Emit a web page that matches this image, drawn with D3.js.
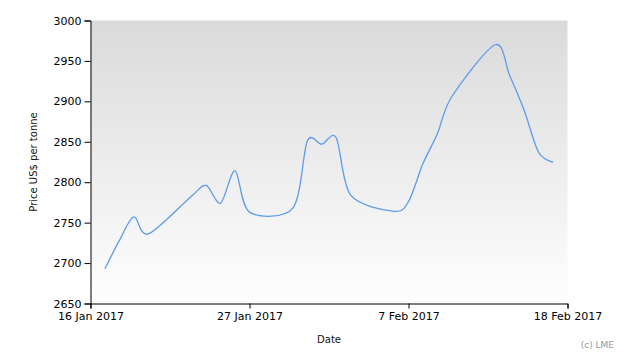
<!DOCTYPE html>
<html>
<head>
<meta charset="utf-8">
<script src="https://cdn.jsdelivr.net/npm/d3@7"></script>
<style>
  html, body { margin: 0; padding: 0; background: #fff; }
  svg { display: block; font-family: "DejaVu Sans", Verdana, sans-serif; }
</style>
</head>
<body>
<svg id="chart" width="630" height="360"></svg>
<script>
// ---- data ----
const dates = ["2017-01-17","2017-01-18","2017-01-19","2017-01-20","2017-01-23","2017-01-24",
  "2017-01-25","2017-01-26","2017-01-27","2017-01-30","2017-01-31","2017-02-01","2017-02-02",
  "2017-02-03","2017-02-06","2017-02-07","2017-02-08","2017-02-09","2017-02-10","2017-02-13",
  "2017-02-14","2017-02-15","2017-02-16","2017-02-17"];
const prices = [2693, 2728, 2757, 2736, 2783, 2796, 2774, 2814, 2763, 2768, 2851, 2847, 2855,
  2784, 2764, 2776, 2823, 2860, 2906, 2970, 2932, 2889, 2837, 2825];
const xTickDates = ["2017-01-16","2017-01-27","2017-02-07","2017-02-18"];
const yTicks = [2650, 2700, 2750, 2800, 2850, 2900, 2950, 3000];
const yDomain = [2650, 3000];

// ---- layout ----
const svg = d3.select("#chart");
const mLeft = 90.5, mRight = 567.5, mTop = 20.5, mBottom = 303.5;
const parse = d3.utcParse("%Y-%m-%d");
const fmt = d3.utcFormat("%-d %b %Y");

const x = d3.scaleUtc()
  .domain([parse(xTickDates[0]), parse(xTickDates[xTickDates.length - 1])])
  .range([mLeft, mRight]);
const y = d3.scaleLinear().domain(yDomain).range([mBottom, mTop]);

const data = dates.map((d, i) => ({ date: parse(d), value: prices[i] }));

// background gradient
const defs = svg.append("defs");
const grad = defs.append("linearGradient").attr("id", "bg")
  .attr("x1", 0).attr("y1", 0).attr("x2", 0).attr("y2", 1);
grad.append("stop").attr("offset", "0%").attr("stop-color", "#dadada");
grad.append("stop").attr("offset", "100%").attr("stop-color", "#fefefe");

svg.append("rect")
  .attr("x", mLeft).attr("y", mTop)
  .attr("width", mRight - mLeft).attr("height", mBottom - mTop)
  .attr("fill", "url(#bg)");

// line
const line = d3.line()
  .x(d => x(d.date))
  .y(d => y(d.value))
  .curve(d3.curveCardinal.tension(0.1));

svg.append("path")
  .datum(data)
  .attr("d", line)
  .attr("fill", "none")
  .attr("stroke", "#5b9bef")
  .attr("stroke-width", 1.3);

// axes
const yAxis = d3.axisLeft(y).tickValues(yTicks).tickSize(6).tickPadding(3).tickFormat(d3.format("d"));
const gy = svg.append("g").attr("transform", `translate(${mLeft},0)`).call(yAxis);
gy.select(".domain").attr("stroke", "#000");
gy.selectAll(".tick line").attr("stroke", "#000");
gy.selectAll(".tick text").attr("fill", "#000").style("font-size", "11px")
  .style("font-family", "'DejaVu Sans', Verdana, sans-serif");

const xAxis = d3.axisBottom(x).tickValues(xTickDates.map(parse)).tickSize(5).tickPadding(4)
  .tickSizeOuter(5).tickFormat(fmt);
const gx = svg.append("g").attr("transform", `translate(0,${mBottom})`).call(xAxis);
gx.select(".domain").attr("stroke", "#000");
gx.selectAll(".tick line").attr("stroke", "#000");
gx.selectAll(".tick text").attr("fill", "#000").style("font-size", "11px")
  .style("font-family", "'DejaVu Sans', Verdana, sans-serif");

// titles
svg.append("text")
  .attr("transform", `translate(37,${(mTop + mBottom) / 2}) rotate(-90)`)
  .attr("text-anchor", "middle")
  .style("font-size", "10px")
  .attr("fill", "#111")
  .text("Price US$ per tonne");

svg.append("text")
  .attr("x", (mLeft + mRight) / 2).attr("y", 343)
  .attr("text-anchor", "middle")
  .style("font-size", "10px")
  .attr("fill", "#111")
  .text("Date");

svg.append("text")
  .attr("x", 614).attr("y", 348)
  .attr("text-anchor", "end")
  .style("font-size", "9px")
  .attr("fill", "#999")
  .text("(c) LME");
</script>
</body>
</html>
